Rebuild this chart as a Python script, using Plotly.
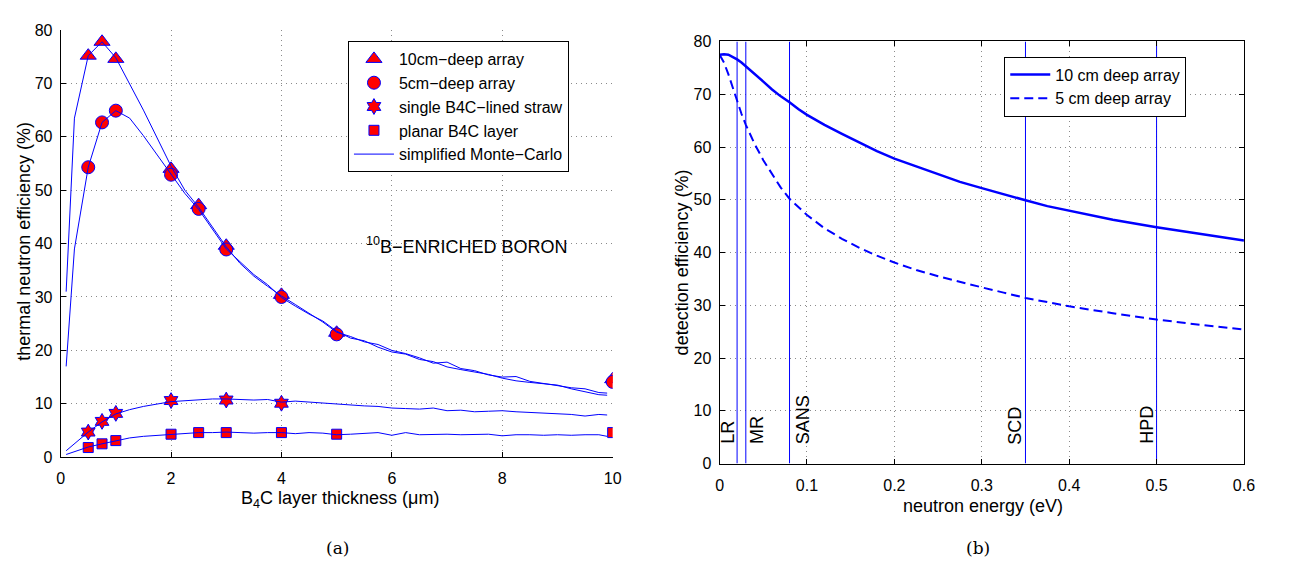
import plotly.graph_objects as go

# ---------------- Panel (a): B4C layer thickness ----------------
thick_10cm = [0.5, 0.75, 1, 2, 2.5, 3, 4, 5, 10]
eff_10cm = [75.2, 77.8, 74.6, 54.0, 47.2, 39.6, 30.4, 23.3, 14.6]
thick_5cm = [0.5, 0.75, 1, 2, 2.5, 3, 4, 5, 10]
eff_5cm = [54.3, 62.7, 64.9, 52.9, 46.5, 38.9, 30.0, 23.0, 14.1]
thick_straw = [0.5, 0.75, 1, 2, 3, 4]
eff_straw = [4.7, 6.7, 8.2, 10.6, 10.7, 10.1]
thick_planar = [0.5, 0.75, 1, 2, 2.5, 3, 4, 5, 10]
eff_planar = [1.8, 2.5, 3.1, 4.3, 4.6, 4.6, 4.6, 4.3, 4.6]

mc_thick = [0.1, 0.25, 0.5, 0.75, 1.0, 1.25, 1.5, 2.0, 2.25, 2.5, 2.75, 3.0, 3.25, 3.5,
            3.75, 4.0, 4.25, 4.5, 4.75, 5.0, 5.25, 5.5, 5.75, 6.0, 6.25, 6.5, 6.75, 7.0,
            7.25, 7.5, 7.75, 8.0, 8.25, 8.5, 8.75, 9.0, 9.25, 9.5, 9.75, 9.9]
mc_10cm = [31.0, 63.5, 75.2, 77.8, 74.8, 70.0, 65.0, 54.5, 50.0, 46.8, 43.0, 39.4, 36.3, 33.9,
           32.0, 30.2, 28.6, 26.9, 25.3, 23.4, 22.6, 21.6, 21.1, 20.0, 19.4, 18.6, 17.6, 17.8,
           16.6, 16.2, 15.4, 15.0, 15.1, 14.2, 13.8, 13.4, 13.0, 12.8, 12.1, 12.0]
mc_5cm = [17.0, 39.0, 54.3, 62.7, 64.9, 63.5, 60.2, 53.0, 49.4, 46.4, 42.6, 39.0, 36.6, 34.2,
          32.3, 29.9, 28.3, 26.8, 25.5, 23.6, 22.3, 21.8, 20.6, 19.7, 19.3, 18.3, 17.9, 16.9,
          16.4, 15.9, 15.5, 14.8, 14.3, 14.0, 13.7, 13.5, 12.8, 12.2, 11.7, 11.6]
mc_straw = [1.2, 2.5, 4.7, 6.6, 8.1, 8.9, 9.5, 10.4, 10.6, 10.8, 10.9, 10.9, 10.8, 10.7,
            10.8, 10.3, 10.5, 10.3, 10.1, 9.9, 9.8, 9.6, 9.5, 9.2, 9.1, 9.0, 9.2, 8.7,
            8.8, 8.5, 8.6, 8.7, 8.5, 8.4, 8.3, 8.1, 8.0, 7.7, 8.0, 7.9]
mc_planar = [0.5, 1.0, 1.9, 2.5, 3.1, 3.6, 3.9, 4.3, 4.4, 4.6, 4.6, 4.7, 4.6, 4.5,
             4.6, 4.6, 4.4, 4.6, 4.5, 4.2, 4.3, 4.4, 4.6, 4.1, 4.6, 4.2, 4.3, 4.3,
             4.2, 4.3, 4.3, 4.0, 4.2, 4.2, 4.1, 4.2, 4.1, 4.2, 4.2, 3.9]

# ---------------- Panel (b): neutron energy ----------------
energy = [0, 0.005, 0.01, 0.015, 0.02, 0.025, 0.03, 0.04, 0.05, 0.06, 0.07, 0.08, 0.09, 0.1,
          0.12, 0.14, 0.16, 0.18, 0.2, 0.225, 0.25, 0.275, 0.3, 0.325, 0.35, 0.375, 0.4,
          0.45, 0.5, 0.55, 0.6]
det_10cm = [77.5, 77.6, 77.5, 77.1, 76.6, 76.0, 75.3, 73.9, 72.4, 70.9, 69.6, 68.5, 67.2, 66.1,
            64.2, 62.5, 60.9, 59.2, 57.8, 56.3, 54.9, 53.4, 52.2, 51.0, 49.9, 48.8, 47.9,
            46.2, 44.8, 43.5, 42.3]
det_5cm = [77.5, 76.0, 73.8, 71.2, 68.6, 66.3, 64.2, 60.6, 57.5, 54.8, 52.3, 50.2, 48.6, 47.1,
           44.6, 42.6, 40.9, 39.4, 38.1, 36.7, 35.5, 34.4, 33.4, 32.4, 31.4, 30.6, 29.8,
           28.5, 27.3, 26.3, 25.4]
instr_energy = [0.02, 0.03, 0.08, 0.35, 0.5]
instr_names = ["LR", "MR", "SANS", "SCD", "HPD"]
label_shift = [-9, 11, 13, -10, -9]   # pixel offsets of the rotated labels

W, H = 1294, 581
BLUE = "#0000FF"
RED = "#FF0000"
FONT = "Liberation Sans"

fig = go.Figure()

marker_sets = [
    (thick_10cm, eff_10cm, "triangle-up", 14, "10cm\u2212deep array"),
    (thick_5cm, eff_5cm, "circle", 13, "5cm\u2212deep array"),
    (thick_straw, eff_straw, "hexagram", 12, "single B4C\u2212lined straw"),
    (thick_planar, eff_planar, "square", 10, "planar B4C layer"),
]
for xs, ys, sym, sz, name in marker_sets:
    fig.add_trace(go.Scatter(
        x=xs, y=ys, mode="markers", name=name, xaxis="x", yaxis="y", legend="legend",
        marker=dict(symbol=sym, size=sz, color=RED, line=dict(color=BLUE, width=1)),
    ))

for i, ys in enumerate([mc_10cm, mc_5cm, mc_straw, mc_planar]):
    fig.add_trace(go.Scatter(
        x=mc_thick, y=ys, mode="lines", name="simplified Monte\u2212Carlo",
        showlegend=(i == 0), xaxis="x", yaxis="y", legend="legend",
        line=dict(color=BLUE, width=1),
    ))

# Panel (b) traces
for e, nm in zip(instr_energy, instr_names):
    fig.add_trace(go.Scatter(
        x=[e, e], y=[0, 80], mode="lines", showlegend=False, xaxis="x2", yaxis="y2",
        line=dict(color=BLUE, width=1), hoverinfo="skip",
    ))
fig.add_trace(go.Scatter(
    x=energy, y=det_10cm, mode="lines", name="10 cm deep array", xaxis="x2", yaxis="y2",
    legend="legend2", line=dict(color=BLUE, width=2.5),
))
fig.add_trace(go.Scatter(
    x=energy, y=det_5cm, mode="lines", name="5 cm deep array", xaxis="x2", yaxis="y2",
    legend="legend2", line=dict(color=BLUE, width=2, dash="9px,5px"),
))

grid = dict(showgrid=True, gridcolor="#8a8a8a", griddash="1px,4px", gridwidth=1,
            zeroline=False, showline=True, linecolor="black", linewidth=1,
            ticks="inside", ticklen=5, tickcolor="black",
            tickfont=dict(family=FONT, size=16, color="black"))

legend_style = dict(xanchor="left", yanchor="top", bgcolor="white", bordercolor="black",
                    borderwidth=1, font=dict(family=FONT, size=16, color="black"),
                    tracegroupgap=0, itemwidth=40)

fig.update_layout(
    width=W, height=H, margin=dict(l=0, r=0, t=0, b=0),
    paper_bgcolor="white", plot_bgcolor="white",
    font=dict(family=FONT, color="black"),
    xaxis=dict(domain=[57.3 / W, 615.8 / W], range=[0, 10], tickvals=[0, 2, 4, 6, 8, 10],
               anchor="y", mirror=False, ticklabelstandoff=7, **grid),
    yaxis=dict(domain=[(H - 462.7) / H, (H - 22.7) / H], range=[0, 80],
               tickvals=list(range(0, 81, 10)), anchor="x", mirror=False,
               ticklabelstandoff=4, **grid),
    xaxis2=dict(domain=[724 / W, 1254.5 / W], range=[0, 0.6],
                tickvals=[0, 0.1, 0.2, 0.3, 0.4, 0.5, 0.6],
                ticktext=["0", "0.1", "0.2", "0.3", "0.4", "0.5", "0.6"],
                anchor="y2", mirror="ticks", ticklabelstandoff=7, **grid),
    yaxis2=dict(domain=[(H - 469.3) / H, (H - 34.5) / H], range=[0, 80],
                tickvals=list(range(0, 81, 10)), anchor="x2", mirror="ticks",
                ticklabelstandoff=4, **grid),
    legend=dict(x=348 / W, y=1 - 34 / H, **legend_style),
    legend2=dict(x=1012 / W, y=1 - 50 / H, **legend_style),
)

annotations = [
    dict(text="thermal neutron efficiency (%)", x=20 / W, y=1 - 240 / H, textangle=-90),
    dict(text="B<sub>4</sub>C layer thickness (\u03bcm)", x=340 / W, y=1 - 506 / H),
    dict(text="detection efficiency (%)", x=686 / W, y=1 - 262 / H, textangle=-90),
    dict(text="neutron energy (eV)", x=990 / W, y=1 - 513 / H),
]
for a in annotations:
    fig.add_annotation(xref="paper", yref="paper", showarrow=False, xanchor="center",
                       yanchor="middle", font=dict(family=FONT, size=18, color="black"), **a)

for txt, cx in [("(a)", 337), ("(b)", 985)]:
    fig.add_annotation(xref="paper", yref="paper", x=cx / W, y=1 - 556 / H, text=txt,
                       xanchor="center", yanchor="middle", showarrow=False,
                       font=dict(family="DejaVu Serif", size=17, color="black"))

fig.add_annotation(xref="x", yref="y", x=5.5, y=39.6, xanchor="left", yanchor="middle",
                   text="<sup>10</sup>B\u2212ENRICHED BORON", showarrow=False,
                   font=dict(family=FONT, size=18, color="black"))

for e, nm, sh in zip(instr_energy, instr_names, label_shift):
    fig.add_annotation(xref="x2", yref="y2", x=e, y=5, text=nm, textangle=-90,
                       xanchor="center", yanchor="bottom", xshift=sh, yshift=-9,
                       showarrow=False, font=dict(family=FONT, size=18, color="black"))

fig.write_html("out.html")
